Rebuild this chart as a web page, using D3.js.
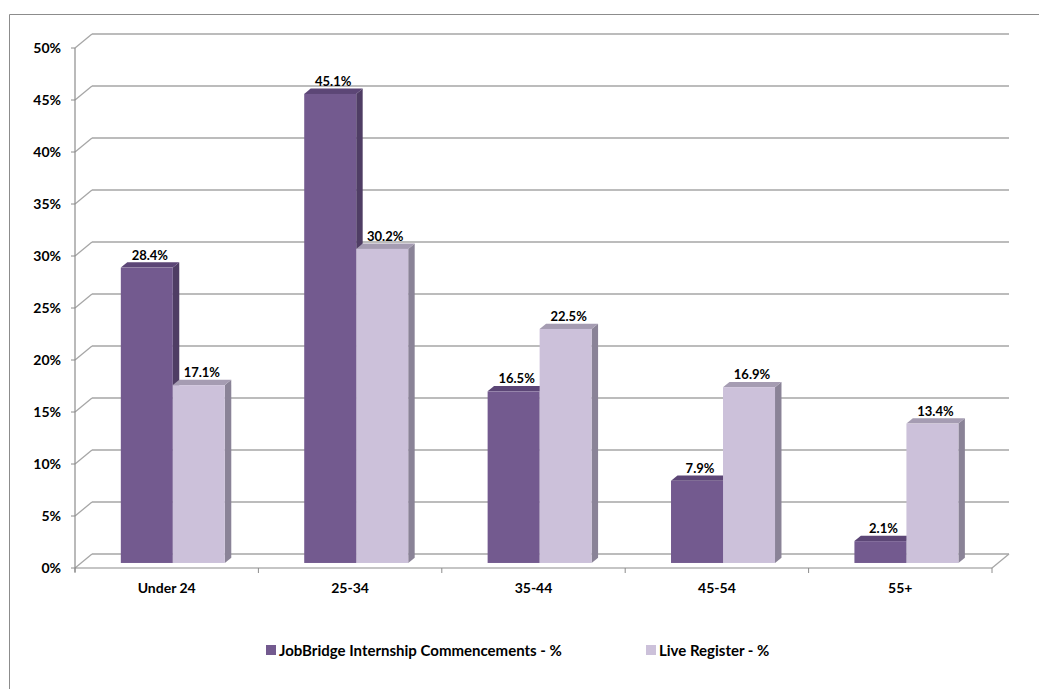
<!DOCTYPE html>
<html><head><meta charset="utf-8">
<script src="https://cdn.jsdelivr.net/npm/d3@7/dist/d3.min.js"></script>
<style>
html,body{margin:0;padding:0;background:#fff;}
text{font-family:Lato,"Open Sans",sans-serif;font-weight:bold;fill:#000;}
</style></head>
<body>
<svg id="c" width="1039" height="689"></svg>
<script>
const categories = ["Under 24","25-34","35-44","45-54","55+"];
const seriesNames = ["JobBridge Internship Commencements - %","Live Register - %"];
const jobBridge = [28.4,45.1,16.5,7.9,2.1];
const liveRegister = [17.1,30.2,22.5,16.9,13.4];
const yTicks = [0,5,10,15,20,25,30,35,40,45,50];
const frontColors = ["#735a8f","#ccc1da"];
const sideColors = ["#4f3d64","#8a8397"];
const topColors = ["#5c4676","#a59cb2"];

const svg = d3.select("#c");
const DX = 17, DY = -14;           // full depth offset
const fBar0 = 0.36, fBar1 = 0.74;  // bar front/back depth fraction
const y = d3.scaleLinear().domain([0,50]).range([568,48]);
const x = d3.scaleBand().domain(categories).range([75,992]).padding(0);
const inner = d3.scaleBand().domain([0,1]).range([-52,52]).padding(0);

// outer border
svg.append("path").attr("d","M9.5,689 V14.5 H1039").attr("fill","none").attr("stroke","#8c8c8c").attr("stroke-width",1);

const grid = svg.append("g");
const gc = "#a6a6a6";
yTicks.forEach(t=>{
  const yy = y(t);
  grid.append("line").attr("x1",75+DX).attr("x2",992+DX).attr("y1",yy+DY).attr("y2",yy+DY)
    .attr("stroke",gc).attr("stroke-width",1.6);
  grid.append("line").attr("x1",75).attr("x2",75+DX).attr("y1",yy).attr("y2",yy+DY)
    .attr("stroke",gc).attr("stroke-width",1.3);
  grid.append("line").attr("x1",71).attr("x2",75).attr("y1",yy).attr("y2",yy)
    .attr("stroke","#8c8c8c").attr("stroke-width",1);
});
grid.append("line").attr("x1",75).attr("x2",992).attr("y1",y(0)).attr("y2",y(0)).attr("stroke","#8c8c8c").attr("stroke-width",1.2);
grid.append("line").attr("x1",992).attr("x2",992+DX).attr("y1",y(0)).attr("y2",y(0)+DY).attr("stroke",gc).attr("stroke-width",1.3);
grid.append("line").attr("x1",75).attr("x2",75).attr("y1",y(50)).attr("y2",y(0)+4).attr("stroke","#8c8c8c").attr("stroke-width",1.2);
categories.concat([null]).forEach((c,i)=>{
  const xx = 75 + i*x.bandwidth();
  grid.append("line").attr("x1",xx).attr("x2",xx).attr("y1",y(0)).attr("y2",y(0)+5).attr("stroke","#8c8c8c").attr("stroke-width",1);
});

svg.append("g").selectAll("text").data(yTicks).join("text")
  .attr("x",61).attr("y",d=>y(d)+5).attr("text-anchor","end").attr("font-size",14)
  .text(d=>d+"%");
svg.append("g").selectAll("text").data(categories).join("text")
  .attr("x",d=>x(d)+x.bandwidth()/2).attr("y",593).attr("text-anchor","middle").attr("font-size",14)
  .text(d=>d);

const series = [jobBridge, liveRegister];
const bars = svg.append("g");
const ox0 = DX*fBar0, oy0 = DY*fBar0, ox1 = DX*fBar1, oy1 = DY*fBar1;
const ddx = ox1-ox0, ddy = oy1-oy0;
categories.forEach((c,ci)=>{
  series.forEach((s,si)=>{
    const v = s[ci];
    const cx = x(c)+x.bandwidth()/2;
    const xl = cx + inner(si) + ox0, xr = xl + inner.bandwidth();
    const yt = y(v) + oy0, yb = y(0) + oy0;
    bars.append("path").attr("d",`M${xr},${yb} L${xr+ddx},${yb+ddy} L${xr+ddx},${yt+ddy} L${xr},${yt} Z`)
      .attr("fill",sideColors[si]);
    bars.append("path").attr("d",`M${xl},${yt} L${xl+ddx},${yt+ddy} L${xr+ddx},${yt+ddy} L${xr},${yt} Z`)
      .attr("fill",topColors[si]);
    bars.append("rect").attr("x",xl).attr("y",yt).attr("width",xr-xl).attr("height",yb-yt)
      .attr("fill",frontColors[si]);
    bars.append("text").attr("x",(xl+xr)/2+3).attr("y",yt-8).attr("text-anchor","middle").attr("font-size",13)
      .text(v.toFixed(1)+"%");
  });
});

const lg = svg.append("g");
const legendX = [266,646];
seriesNames.forEach((n,i)=>{
  lg.append("rect").attr("x",legendX[i]).attr("y",645).attr("width",10).attr("height",10).attr("fill",frontColors[i]);
  lg.append("text").attr("x",legendX[i]+13).attr("y",656).attr("font-size",15).text(n);
});
</script>
</body></html>
